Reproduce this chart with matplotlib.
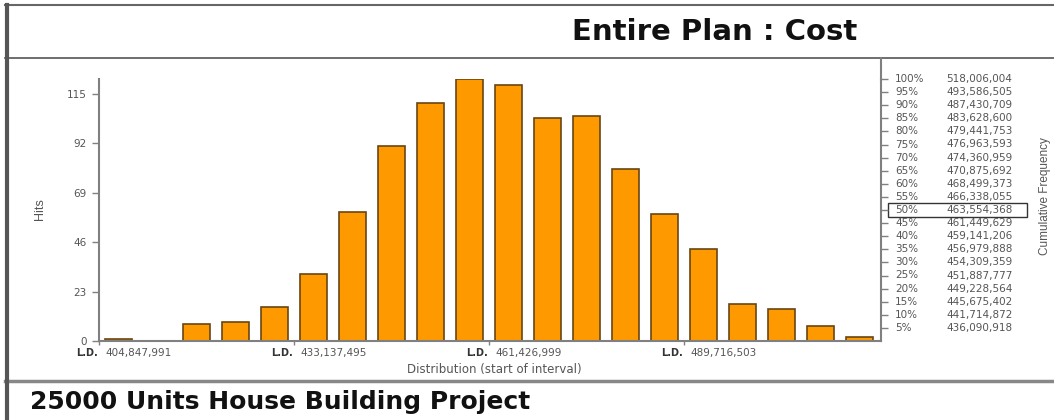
import matplotlib
matplotlib.use("Agg")
import matplotlib.pyplot as plt
from matplotlib.lines import Line2D
from matplotlib.patches import Rectangle
import numpy as np

# ---------------- data ----------------
hits = [1, 0, 8, 9, 16, 31, 60, 91, 111, 122, 119, 104, 105, 80, 59, 43, 17, 15, 7, 2]
bin_start = 404847991
ld_ticks = [404847991, 433137495, 461426999, 489716503]
ld_labels = ["404,847,991", "433,137,495", "461,426,999", "489,716,503"]
hits_ticks = [0, 23, 46, 69, 92, 115]
cum_pct = [100, 95, 90, 85, 80, 75, 70, 65, 60, 55, 50, 45, 40, 35, 30, 25, 20, 15, 10, 5]
cum_values = ["518,006,004", "493,586,505", "487,430,709", "483,628,600", "479,441,753",
              "476,963,593", "474,360,959", "470,875,692", "468,499,373", "466,338,055",
              "463,554,368", "461,449,629", "459,141,206", "456,979,888", "454,309,359",
              "451,887,777", "449,228,564", "445,675,402", "441,714,872", "436,090,918"]
title = "Entire Plan : Cost"
footer = "25000 Units House Building Project"

# ---------------- layout ----------------
W, H = 1054, 420
def fx(x): return x / W
def fy(y): return 1 - y / H

fig = plt.figure(figsize=(W / 100, H / 100), dpi=100)
fig.patch.set_facecolor("white")

ax = fig.add_axes([fx(99), fy(341), (881 - 99) / W, (341 - 79) / H])
bw = (ld_ticks[1] - ld_ticks[0]) / 5.0
centers = bin_start + (np.arange(len(hits)) + 0.5) * bw
ax.bar(centers, hits, width=0.67 * bw, color="#FF9900", edgecolor="#6a4513", linewidth=1.2, zorder=2)
ax.set_xlim(bin_start, bin_start + 20.05 * bw)
ax.set_ylim(0, 122)

spine_c = "#808080"
for s in ["left", "bottom", "right"]:
    ax.spines[s].set_color(spine_c)
    ax.spines[s].set_linewidth(1.5)
ax.spines["top"].set_visible(False)

ax.set_yticks(hits_ticks)
ax.set_yticklabels([str(v) for v in hits_ticks], fontsize=7.5, color="#555555")
ax.tick_params(axis="y", length=5, width=1, color=spine_c, pad=4)
ax.set_xticks(ld_ticks)
ax.set_xticklabels([""] * len(ld_ticks))
ax.tick_params(axis="x", length=3, width=1, color=spine_c)

for v, lab in zip(ld_ticks, ld_labels):
    ax.annotate("L.D.", xy=(v, 0), xycoords=("data", "axes fraction"), xytext=(-1, -7),
                textcoords="offset pixels", ha="right", va="top", fontsize=7, weight="bold",
                color="#333333", annotation_clip=False)
    ax.annotate(lab, xy=(v, 0), xycoords=("data", "axes fraction"), xytext=(6, -7),
                textcoords="offset pixels", ha="left", va="top", fontsize=7.5,
                color="#555555", annotation_clip=False)

ax2 = ax.twinx()
ax2.set_ylim(0, 100)
ax2.set_yticks(cum_pct)
ax2.set_yticklabels([""] * len(cum_pct))
ax2.tick_params(axis="y", length=5, width=1, color=spine_c)
for s in ["left", "bottom", "right", "top"]:
    ax2.spines[s].set_visible(False)

ytr = ax2.get_yaxis_transform()
for p, val in zip(cum_pct, cum_values):
    ax2.text((895 - 99) / 782, p, f"{p}%", transform=ytr, ha="left", va="center",
             fontsize=7.5, color="#555555", clip_on=False)
    ax2.text((946 - 99) / 782, p, val, transform=ytr, ha="left", va="center",
             fontsize=7.5, color="#555555", clip_on=False)
ax2.add_patch(Rectangle(((888 - 99) / 782, 47.5), (1027 - 888) / 782, 5.0, transform=ytr,
                        fill=False, edgecolor="#333333", linewidth=1, clip_on=False))

# ---------------- labels ----------------
fig.text(fx(40), fy(209), "Hits", rotation=90, ha="center", va="center",
         fontsize=9, family="Liberation Sans", color="#555555")
fig.text(fx(1045), fy(196), "Cumulative Frequency", rotation=90, ha="center", va="center",
         fontsize=8.5, family="Liberation Sans", color="#555555")
fig.text(fx(494), fy(369), "Distribution (start of interval)", ha="center", va="center",
         fontsize=8.5, color="#555555")
fig.text(fx(715), fy(32), title, ha="center", va="center", fontsize=21, weight="bold",
         color="#111111")
fig.text(fx(30), fy(402), footer, ha="left", va="center", fontsize=18, weight="bold",
         color="#111111")

# ---------------- frame ----------------
def hline(y, x0, x1, lw, c):
    fig.add_artist(Line2D([fx(x0), fx(x1)], [fy(y), fy(y)], lw=lw, color=c))
def vline(x, y0, y1, lw, c):
    fig.add_artist(Line2D([fx(x), fx(x)], [fy(y0), fy(y1)], lw=lw, color=c))

hline(5, 5, W, 1.5, "#666666")
hline(57.5, 5, W, 1.2, "#555555")
hline(381, 5, W, 2.5, "#888888")
vline(6.5, 5, H, 3, "#555555")
vline(881, 57.5, 80, 1.5, spine_c)

fig.savefig("out.png", dpi=100, facecolor="white")
